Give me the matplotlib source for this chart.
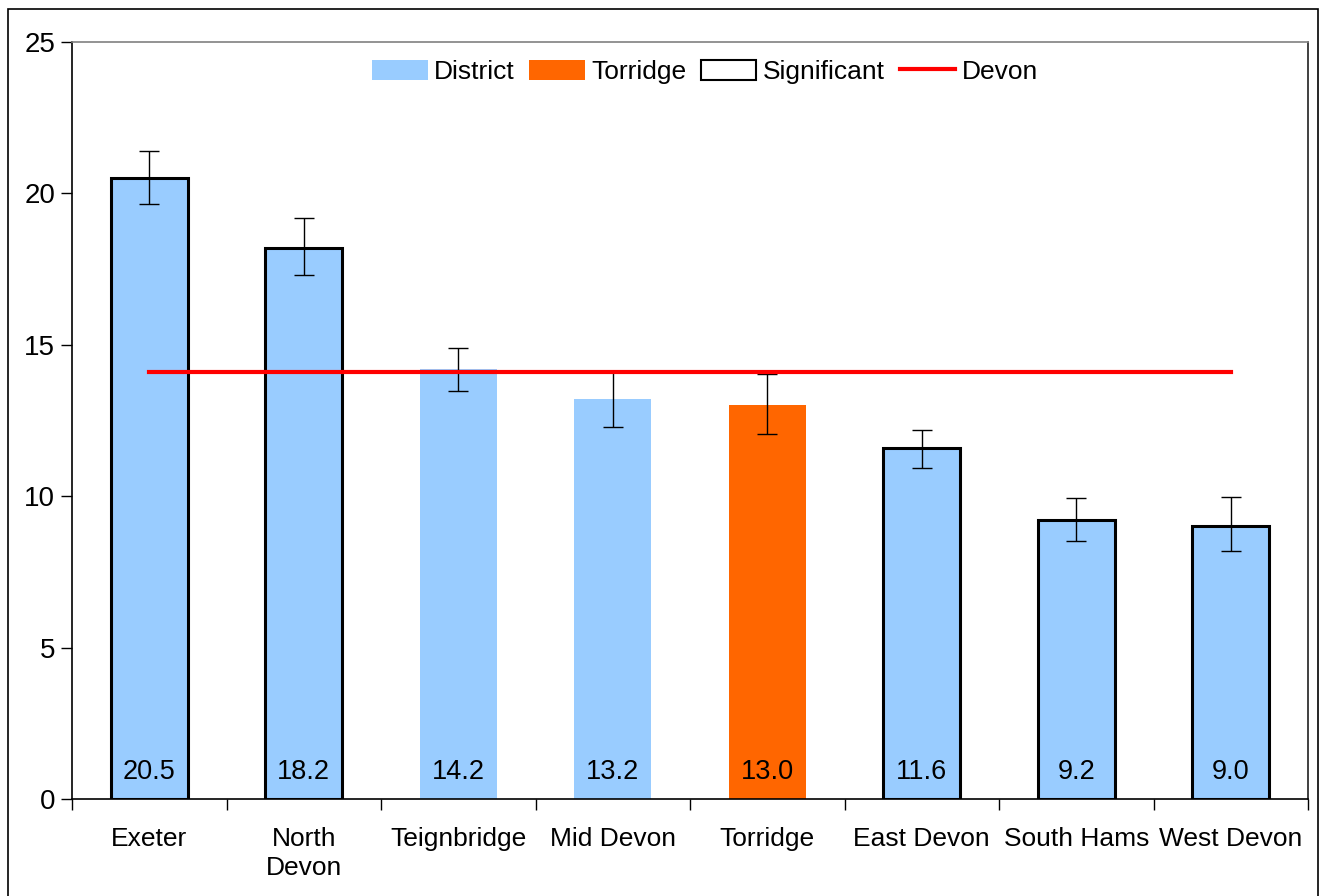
import numpy as np
import matplotlib.pyplot as plt
from matplotlib.patches import Patch, Rectangle
from matplotlib.lines import Line2D

plt.rcParams['font.family'] = ['Liberation Sans', 'DejaVu Sans']

# datos
districts = ['Exeter', 'North\nDevon', 'Teignbridge', 'Mid Devon', 'Torridge',
             'East Devon', 'South Hams', 'West Devon']
values = [20.5, 18.2, 14.2, 13.2, 13.0, 11.6, 9.2, 9.0]
err_low = [19.65, 17.3, 13.47, 12.3, 12.05, 10.94, 8.53, 8.19]
err_high = [21.4, 19.2, 14.9, 14.13, 14.03, 12.19, 9.95, 9.97]
significant = [True, True, False, False, False, True, True, True]
devon = 14.1

blue = '#99CCFF'
orange = '#FF6600'

fig = plt.figure(figsize=(13.21, 8.96), dpi=100)
ax = fig.add_axes([72/1321, 1-799/896, (1308-72)/1321, (799-42)/896])

x = np.arange(len(districts))
colors = [orange if d == 'Torridge' else blue for d in districts]
edges = ['black' if s else 'none' for s in significant]
ax.bar(x, values, width=0.5, color=colors, edgecolor=edges, linewidth=2.2, zorder=2)

yerr = [np.array(values) - np.array(err_low), np.array(err_high) - np.array(values)]
ax.errorbar(x, values, yerr=yerr, fmt='none', ecolor='black', elinewidth=1,
            capsize=7, capthick=1, zorder=3)

ax.plot([x[0], x[-1]], [devon, devon], color='#FF0000', linewidth=3, zorder=4)

for xi, v in zip(x, values):
    ax.text(xi, 0.9, f'{v:.1f}', ha='center', va='center', fontsize=19.5, zorder=5)

ax.set_xlim(-0.5, len(districts) - 0.5)
ax.set_ylim(0, 25)
ax.set_yticks([0, 5, 10, 15, 20, 25])
ax.tick_params(axis='y', labelsize=20, length=8, width=1, pad=4)
ax.set_xticks(x)
ax.set_xticklabels(districts, fontsize=19, linespacing=1.25)
ax.set_xticks(np.arange(-0.5, len(districts)), minor=True)
ax.tick_params(axis='x', which='major', length=0, pad=20)
ax.tick_params(axis='x', which='minor', length=8, width=1)

ax.spines['top'].set_color('#808080')
ax.spines['right'].set_color('#202020')
for s in ax.spines.values():
    s.set_linewidth(1.2)

handles = [Patch(facecolor=blue, edgecolor='none'),
           Patch(facecolor=orange, edgecolor='none'),
           Patch(facecolor='white', edgecolor='black', linewidth=1.5),
           Line2D([0], [0], color='#FF0000', linewidth=3)]
labels = ['District', 'Torridge', 'Significant', 'Devon']
fig.legend(handles, labels, loc='center', bbox_to_anchor=(705/1321, 1-72/896), ncol=4,
           frameon=False, fontsize=19, handlelength=2.1, handleheight=0.8,
           handletextpad=0.25, columnspacing=0.55)

# marco exterior
fig.patches.append(Rectangle((8/1321, -0.05), (1318-8)/1321, 1.05-9/896,
                             transform=fig.transFigure, fill=False,
                             edgecolor='black', linewidth=1.2))

plt.savefig('out.png', dpi=100)
